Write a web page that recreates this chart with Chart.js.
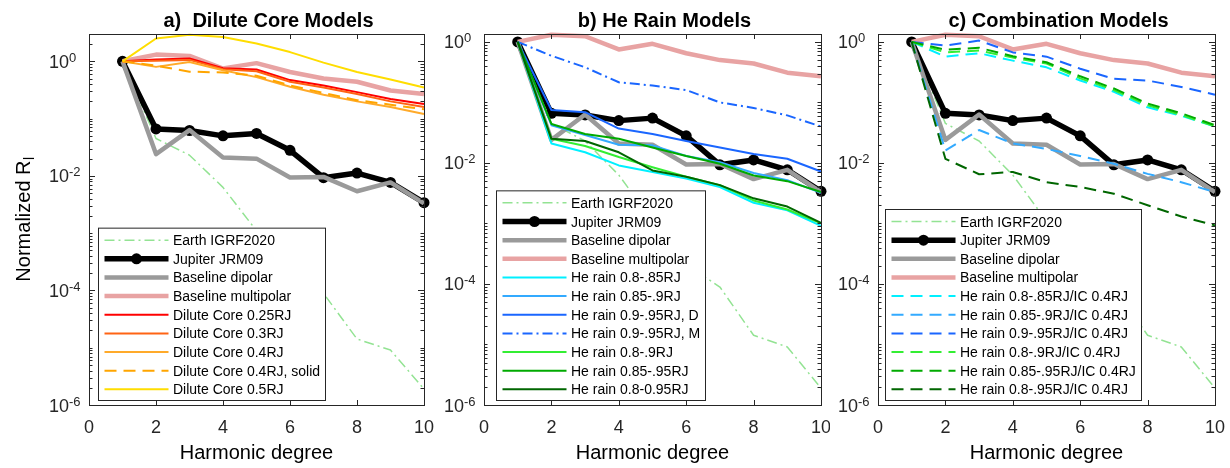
<!DOCTYPE html>
<html>
<head>
<meta charset="utf-8">
<script src="https://cdn.jsdelivr.net/npm/chart.js@4.4.1/dist/chart.umd.min.js"></script>
<style>
  html, body { margin: 0; padding: 0; background: #fff; }
  #wrap { position: relative; width: 1230px; height: 468px; }
  canvas { position: absolute; top: 0; }
</style>
</head>
<body>
<div id="wrap">
  <canvas id="chartA" width="445" height="468" style="left:0px"></canvas>
  <canvas id="chartB" width="400" height="468" style="left:430px"></canvas>
  <canvas id="chartC" width="400" height="468" style="left:830px"></canvas>
</div>
<script>
// harmonic degree (x) and axis ticks
const degree = [1, 2, 3, 4, 5, 6, 7, 8, 9, 10];
const xTickValues = [0, 2, 4, 6, 8, 10];
const yTickExponents = [0, -2, -4, -6];
const panelTitles = ['a)  Dilute Core Models', 'b) He Rain Models', 'c) Combination Models'];

// reference spectra (normalized R_l)
const earthIGRF2020 = [1, 0.045, 0.023, 0.0063, 0.0011, 0.00021, 0.000089, 0.0000142, 0.0000091, 0.0000019];
const jupiterJRM09 = [1, 0.066, 0.062, 0.050, 0.055, 0.028, 0.0093, 0.0112, 0.0077, 0.0034];
const baselineDipolar = [1, 0.024, 0.063, 0.021, 0.020, 0.0094, 0.0096, 0.0054, 0.0077, 0.0033];
const baselineMultipolar = [1, 1.31, 1.24, 0.75, 0.93, 0.65, 0.50, 0.44, 0.31, 0.27];

// a) dilute core
const dilute025 = [1, 1.08, 1.12, 0.76, 0.72, 0.47, 0.38, 0.29, 0.22, 0.18];
const dilute03 = [1, 1.02, 1.06, 0.73, 0.67, 0.44, 0.35, 0.27, 0.20, 0.16];
const dilute04 = [1, 0.80, 0.97, 0.70, 0.53, 0.36, 0.26, 0.20, 0.16, 0.12];
const dilute04solid = [1, 0.84, 0.66, 0.64, 0.56, 0.38, 0.28, 0.21, 0.175, 0.145];
const dilute05 = [1, 2.5, 2.9, 2.65, 2.05, 1.45, 0.95, 0.65, 0.48, 0.35];

// b) He rain
const rain08_085 = [1, 0.021, 0.015, 0.0091, 0.0071, 0.0055, 0.0040, 0.0022, 0.00165, 0.00091];
const rain085_09 = [1, 0.042, 0.029, 0.020, 0.0195, 0.013, 0.0103, 0.0068, 0.0052, 0.0032];
const rain09_095D = [1, 0.075, 0.069, 0.037, 0.030, 0.023, 0.018, 0.014, 0.0117, 0.0072];
const rain09_095M = [1, 0.59, 0.38, 0.215, 0.19, 0.16, 0.10, 0.081, 0.061, 0.040];
const rain08_09 = [1, 0.025, 0.019, 0.0125, 0.0085, 0.0059, 0.0043, 0.0024, 0.0017, 0.0010];
const rain085_095 = [1, 0.044, 0.030, 0.025, 0.018, 0.013, 0.0097, 0.0062, 0.0050, 0.0033];
const rain08_095 = [1, 0.025, 0.023, 0.015, 0.0075, 0.0059, 0.0043, 0.0026, 0.0019, 0.00102];

// c) He rain + inner core 0.4RJ
const combo08_085 = [1, 0.57, 0.65, 0.49, 0.38, 0.23, 0.15, 0.083, 0.060, 0.040];
const combo085_09 = [1, 0.016, 0.035, 0.021, 0.017, 0.013, 0.0097, 0.0066, 0.0048, 0.0033];
const combo09_095 = [1, 0.87, 1.05, 0.67, 0.57, 0.36, 0.245, 0.23, 0.18, 0.134];
const combo08_09 = [1, 0.67, 0.72, 0.55, 0.44, 0.25, 0.16, 0.09, 0.062, 0.040];
const combo085_095 = [1, 0.74, 0.80, 0.58, 0.46, 0.27, 0.17, 0.096, 0.066, 0.042];
const combo08_095 = [1, 0.0117, 0.0065, 0.0071, 0.0048, 0.0040, 0.0031, 0.0020, 0.0013, 0.00093];

const FONT = "'Liberation Sans', Arial, Helvetica, sans-serif";
const AXIS = '#262626';
const DASH = [12, 7];
const DASHDOT = [10, 4, 2, 4];

function line(label, values, color, width, dash, radius) {
  return {
    label: label,
    data: degree.map((d, i) => ({ x: d, y: values[i] })),
    borderColor: color,
    backgroundColor: color,
    borderWidth: width,
    borderDash: dash || [],
    borderJoinStyle: 'round',
    pointRadius: radius || 0,
    pointHoverRadius: 0,
    pointBackgroundColor: color,
    pointBorderWidth: 0,
    tension: 0,
    fill: false,
    clip: false
  };
}

function common() {
  return [
    line('Earth IGRF2020', earthIGRF2020, '#93e393', 1.5, DASHDOT),
    line('Jupiter JRM09', jupiterJRM09, '#000000', 5.5, null, 5.5),
    line('Baseline dipolar', baselineDipolar, '#9a9a9a', 4.5),
    line('Baseline multipolar', baselineMultipolar, '#e8a3a3', 4.5)
  ];
}

// legend + box + inward ticks, drawn after the data
function makeFrame(cfg) {
  return {
    id: 'frame',
    afterDraw(chart) {
      const ctx = chart.ctx;
      const { left, right, top, bottom } = chart.chartArea;
      const xs = chart.scales.x, ys = chart.scales.y;
      ctx.save();

      // legend
      const ds = chart.data.datasets;
      const rowH = 18.65;
      const lh = ds.length * rowH + 4.5;
      const lx = cfg.legendLeft, ly = 400.5 - lh;
      ctx.fillStyle = '#fff';
      ctx.fillRect(lx, ly, cfg.legendWidth, lh);
      ctx.strokeStyle = AXIS;
      ctx.lineWidth = 1;
      ctx.strokeRect(lx + 0.5, ly, cfg.legendWidth, lh);
      ctx.font = '14px ' + FONT;
      ctx.textBaseline = 'alphabetic';
      ctx.textAlign = 'left';
      ds.forEach((d, i) => {
        const cy = ly + 12 + i * rowH;
        ctx.save();
        ctx.strokeStyle = d.borderColor;
        ctx.lineWidth = d.borderWidth;
        ctx.setLineDash(d.borderDash);
        ctx.beginPath();
        ctx.moveTo(lx + 6.5, cy);
        ctx.lineTo(lx + 70.5, cy);
        ctx.stroke();
        if (d.pointRadius) {
          ctx.fillStyle = d.borderColor;
          ctx.beginPath();
          ctx.arc(lx + 38.5, cy, d.pointRadius, 0, Math.PI * 2);
          ctx.fill();
        }
        ctx.restore();
        ctx.fillStyle = '#000';
        ctx.fillText(d.label, lx + 75, cy + 5);
      });

      // axes box
      ctx.strokeStyle = AXIS;
      ctx.lineWidth = 1;
      ctx.strokeRect(left + 0.5, top + 0.5, right - left, bottom - top);
      ctx.beginPath();
      xTickValues.forEach(v => {
        const p = Math.round(xs.getPixelForValue(v)) + 0.5;
        ctx.moveTo(p, bottom); ctx.lineTo(p, bottom - 5);
        ctx.moveTo(p, top); ctx.lineTo(p, top + 5);
      });
      for (let e = -6; e <= 0; e++) {
        for (let m = 1; m <= 9; m++) {
          const v = m * Math.pow(10, e);
          if (v > ys.max) break;
          const len = (m === 1 && e % 2 === 0) ? 6 : 3.5;
          const p = Math.round(ys.getPixelForValue(v)) + 0.5;
          ctx.moveTo(left, p); ctx.lineTo(left + len, p);
          ctx.moveTo(right, p); ctx.lineTo(right - len, p);
        }
      }
      ctx.stroke();

      // tick labels
      ctx.fillStyle = AXIS;
      ctx.font = '18px ' + FONT;
      ctx.textAlign = 'center';
      xTickValues.forEach(v => {
        ctx.fillText(String(v), xs.getPixelForValue(v), 432.5);
      });
      ctx.textAlign = 'left';
      yTickExponents.forEach(e => {
        const p = ys.getPixelForValue(Math.pow(10, e));
        const x0 = left - 40;
        ctx.font = '18px ' + FONT;
        ctx.fillText('10', x0, p + 6.5);
        const w = ctx.measureText('10').width;
        ctx.font = '13px ' + FONT;
        ctx.fillText(String(e), x0 + w, p + 0.5);
      });

      // axis title + panel title
      ctx.fillStyle = '#000';
      ctx.font = '20px ' + FONT;
      ctx.textAlign = 'center';
      ctx.fillText('Harmonic degree', (left + right) / 2, 459);
      ctx.font = 'bold 20px ' + FONT;
      ctx.fillText(cfg.title, (left + right) / 2 + 12, 27);

      if (cfg.yTitle) {
        ctx.save();
        ctx.translate(30, (top + bottom) / 2);
        ctx.rotate(-Math.PI / 2);
        ctx.font = '20px ' + FONT;
        const w1 = ctx.measureText('Normalized R').width;
        ctx.font = '14px ' + FONT;
        const w2 = ctx.measureText('l').width;
        const x0 = -(w1 + w2) / 2;
        ctx.textAlign = 'left';
        ctx.font = '20px ' + FONT;
        ctx.fillText('Normalized R', x0, 0);
        ctx.font = '14px ' + FONT;
        ctx.fillText('l', x0 + w1 + 0.5, 4);
        ctx.restore();
      }
      ctx.restore();
    }
  };
}

function makeChart(id, datasets, cfg) {
  datasets.forEach((d, i) => { d.order = datasets.length - i; });
  return new Chart(document.getElementById(id), {
    type: 'line',
    data: { datasets: datasets },
    options: {
      responsive: false,
      animation: false,
      devicePixelRatio: 1,
      layout: { padding: cfg.pad },
      scales: {
        x: { type: 'linear', min: 0, max: 10, display: false },
        y: { type: 'logarithmic', min: 1e-6, max: cfg.yMax, display: false }
      },
      plugins: { legend: { display: false }, tooltip: { enabled: false } }
    },
    plugins: [makeFrame(cfg)]
  });
}

makeChart('chartA', common().concat([
  line('Dilute Core 0.25RJ', dilute025, '#ff0000', 2),
  line('Dilute Core 0.3RJ', dilute03, '#ff6414', 2),
  line('Dilute Core 0.4RJ', dilute04, '#ffaa2a', 2),
  line('Dilute Core 0.4RJ, solid', dilute04solid, '#ffa500', 2, DASH),
  line('Dilute Core 0.5RJ', dilute05, '#ffdd00', 2)
]), { title: panelTitles[0], yMax: 3, yTitle: true,
      pad: { left: 89, right: 21, top: 34, bottom: 63 },
      legendLeft: 98, legendWidth: 227 });

makeChart('chartB', common().concat([
  line('He rain 0.8-.85RJ', rain08_085, '#00f0ff', 2),
  line('He rain 0.85-.9RJ', rain085_09, '#33aaff', 2),
  line('He rain 0.9-.95RJ, D', rain09_095D, '#1a66ff', 2),
  line('He rain 0.9-.95RJ, M', rain09_095M, '#1a66ff', 2, DASHDOT),
  line('He rain 0.8-.9RJ', rain08_09, '#33ee33', 2),
  line('He rain 0.85-.95RJ', rain085_095, '#00aa00', 2),
  line('He rain 0.8-0.95RJ', rain08_095, '#006600', 2)
]), { title: panelTitles[1], yMax: 1.35, yTitle: false,
      pad: { left: 54, right: 9, top: 34, bottom: 63 },
      legendLeft: 66, legendWidth: 209 });

makeChart('chartC', common().concat([
  line('He rain 0.8-.85RJ/IC 0.4RJ', combo08_085, '#00f0ff', 2, DASH),
  line('He rain 0.85-.9RJ/IC 0.4RJ', combo085_09, '#33aaff', 2, DASH),
  line('He rain 0.9-.95RJ/IC 0.4RJ', combo09_095, '#1a66ff', 2, DASH),
  line('He rain 0.8-.9RJ/IC 0.4RJ', combo08_09, '#33ee33', 2, DASH),
  line('He rain 0.85-.95RJ/IC 0.4RJ', combo085_095, '#00aa00', 2, DASH),
  line('He rain 0.8-.95RJ/IC 0.4RJ', combo08_095, '#006600', 2, DASH)
]), { title: panelTitles[2], yMax: 1.35, yTitle: false,
      pad: { left: 48, right: 15, top: 34, bottom: 63 },
      legendLeft: 55, legendWidth: 256 });
</script>
</body>
</html>
